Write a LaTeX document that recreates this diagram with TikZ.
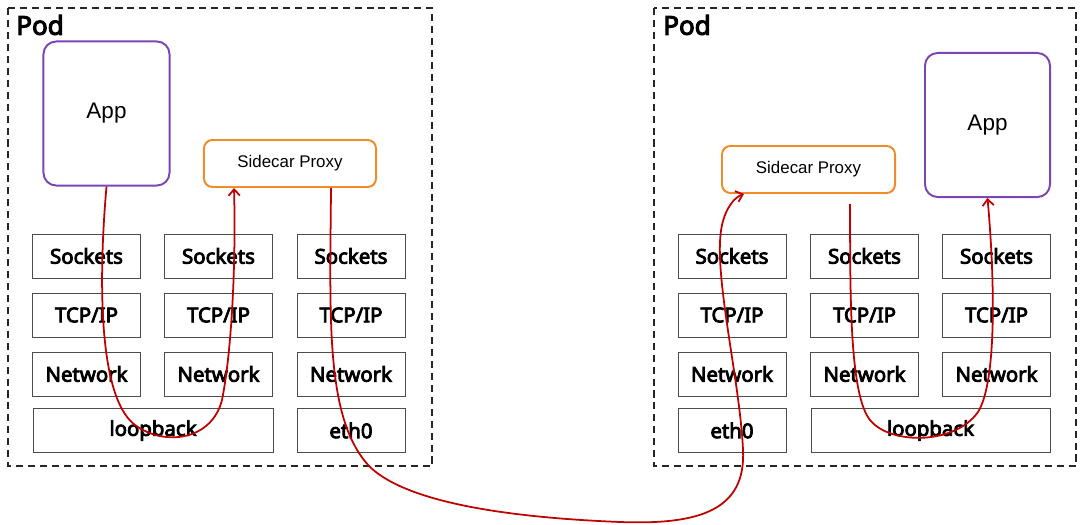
\documentclass[tikz,border=0pt]{standalone}
\usepackage{fontspec}
\usepackage{xcolor}
\usetikzlibrary{arrows.meta}
\newfontfamily\labfont{Noto Sans}[AutoFakeBold=4]
\newfontfamily\handfont{Liberation Sans}
\definecolor{flowred}{HTML}{C00000}
\definecolor{appviolet}{HTML}{7B45B5}
\definecolor{proxyorange}{HTML}{F28C28}

\begin{document}
\begin{tikzpicture}[
  x=0.025cm, y=-0.025cm, >={Straight Barb[length=4.5pt,width=8pt]},
  layer/.style={draw=black!70, line width=0.6pt, minimum width=2.7cm, minimum height=1.1cm, inner sep=0pt, font=\labfont\bfseries\fontsize{14.5}{16}\selectfont},
  pod/.style={draw=black!85, line width=1pt, dash pattern=on 5pt off 3.5pt},
  podlbl/.style={anchor=west, inner sep=0pt, font=\labfont\bfseries\fontsize{18.5}{20}\selectfont},
  hand/.style={line width=1.4pt, rounded corners=9pt},
  app/.style={hand, draw=appviolet, minimum width=3.15cm, minimum height=3.6cm, font=\handfont\fontsize{16}{18}\selectfont},
  proxy/.style={hand, rounded corners=6pt, draw=proxyorange, minimum width=4.3cm, minimum height=1.175cm, font=\handfont\fontsize{12}{14}\selectfont},
  fl/.style={->, draw=flowred, line width=1.25pt},
]
\useasboundingbox (0,0) rectangle (1080,525);

% pods
\draw[pod] (8,8) rectangle (432,466);
\draw[pod] (654,8) rectangle (1076,466);
\node[podlbl] (podL) at (16,25) {Pod};
\node[podlbl] (podR) at (663,25) {Pod};

% left pod
\node[app] (appL) at (106.5,113.5) {App};
\node[proxy] (sideL) at (290,163.5) {Sidecar Proxy};
\node[layer] (sockL1) at (86.5,256) {Sockets};
\node[layer] (sockL2) at (218.5,256) {Sockets};
\node[layer] (sockL3) at (351,256) {Sockets};
\node[layer] (tcpL1) at (86.5,315) {TCP/IP};
\node[layer] (tcpL2) at (218.5,315) {TCP/IP};
\node[layer] (tcpL3) at (351,315) {TCP/IP};
\node[layer] (netL1) at (86.5,374) {Network};
\node[layer] (netL2) at (218.5,374) {Network};
\node[layer] (netL3) at (351,374) {Network};
\node[layer, minimum width=6cm] (loL) at (153,430.5) {loopback};
\node[layer] (ethL) at (351,430.5) {eth0};

% right pod
\node[app, minimum width=3.125cm] (appR) at (987.5,125) {App};
\node[proxy, minimum width=4.325cm] (sideR) at (808.5,169.5) {Sidecar Proxy};
\node[layer] (sockR1) at (732,256) {Sockets};
\node[layer] (sockR2) at (864.5,256) {Sockets};
\node[layer] (sockR3) at (996.5,256) {Sockets};
\node[layer] (tcpR1) at (732,315) {TCP/IP};
\node[layer] (tcpR2) at (864.5,315) {TCP/IP};
\node[layer] (tcpR3) at (996.5,315) {TCP/IP};
\node[layer] (netR1) at (732,374) {Network};
\node[layer] (netR2) at (864.5,374) {Network};
\node[layer] (netR3) at (996.5,374) {Network};
\node[layer] (ethR) at (732,430.5) {eth0};
\node[layer, minimum width=5.975cm] (loR) at (930.5,430.5) {loopback};

% traffic
\draw[fl] (appL.south) .. controls (100,260) and (95,395) .. (135,425) .. controls (165,447) and (212,440) .. (222,400) .. controls (232,350) and (236,260) .. ([xshift=0.775cm]sideL.south west);
\draw[fl] ([xshift=1.025cm]sideL.south) .. controls (330,320) and (325,420) .. (370,467) .. controls (410,505) and (520,518) .. (620,522) .. controls (700,525) and (746,510) .. (743,450) .. controls (740,380) and (712,270) .. (722,225) .. controls (726,207) and (735,197) .. ([xshift=0.575cm]sideR.south west);
\draw[fl] ([xshift=1.04cm,yshift=-0.25cm]sideR.south) .. controls (850,300) and (850,395) .. (870,420) .. controls (890,445) and (955,445) .. (978,412) .. controls (998,380) and (994,270) .. (appR.south);
\end{tikzpicture}
\end{document}
